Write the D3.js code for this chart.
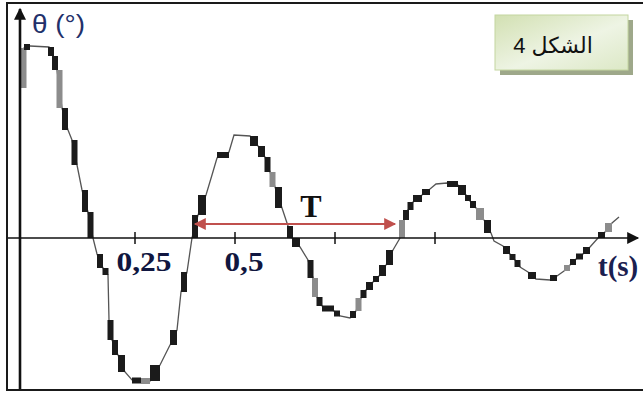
<!DOCTYPE html>
<html lang="ar">
<head>
<meta charset="UTF-8">
<script src="https://d3js.org/d3.v7.min.js"></script>
<title>الشكل 4</title>
<style>
  html, body { margin: 0; padding: 0; background: #fff; }
  svg { display: block; }
</style>
</head>
<body>
<script>
// time (s) and angle (arbitrary degree units)
const tSec = [-0.030, -0.0275, -0.0125, 0.035, 0.045, 0.055, 0.0675, 0.0825, 0.0925, 0.105,
  0.1175, 0.1325, 0.145, 0.155, 0.17, 0.1825, 0.185, 0.1925, 0.2075, 0.225,
  0.2425, 0.265, 0.2875, 0.3125, 0.3375, 0.355, 0.365, 0.38, 0.3925, 0.4075,
  0.4275, 0.4425, 0.455, 0.485, 0.4975, 0.5375, 0.5575, 0.575, 0.5875, 0.60,
  0.6175, 0.6325, 0.6425, 0.6625, 0.6825, 0.695, 0.705, 0.7175, 0.7475, 0.7625,
  0.7875, 0.8025, 0.815, 0.8275, 0.845, 0.86, 0.8775, 0.895, 0.9125, 0.9225,
  0.9325, 0.945, 0.9675, 0.9875, 1.0025, 1.03, 1.0575, 1.0775, 1.0875, 1.1025,
  1.1225, 1.14, 1.1475, 1.17, 1.1875, 1.20, 1.2125, 1.2325, 1.2525, 1.2875,
  1.305, 1.3225, 1.3375, 1.3525, 1.37, 1.3875, 1.4075, 1.425, 1.4425, 1.46]
const theta = [7.5, 9.5, 9.6, 9.55, 9.1, 8.4, 6.5, 5.4, 4.9, 3.65,
  2.4, 1.3, 0, -0.8, -1.5, -1.85, -4.1, -5.1, -5.85, -6.7,
  -7.1, -7.15, -7.15, -6.35, -5.35, -4.6, -2.7, -1.7, 0, 1.15,
  2.15, 3.15, 4.0, 4.3, 5.15, 5.1, 4.6, 4.05, 3.3, 2.55,
  1.5, 0.6, 0, -0.45, -1.1, -2.0, -2.95, -3.4, -3.65, -3.9,
  -4.0, -3.65, -3.0, -2.6, -2.2, -1.9, -1.35, -0.6, 0, 0.9,
  1.4, 1.8, 2.15, 2.45, 2.7, 2.75, 2.65, 2.15, 1.85, 1.5,
  0.9, 0.25, -0.15, -0.4, -0.8, -1.1, -1.45, -1.7, -2.05, -2.1,
  -1.9, -1.65, -1.35, -1.05, -0.8, -0.45, 0, 0.3, 0.75, 1.05]

const tickT = [0.25, 0.5, 0.75, 1]
const tickLabels = ["0,25", "0,5", "", ""]
const periodT = [0.4, 0.9]      // one period T, between two rising crossings
const periodTheta = 0.7
const figureLabel = "الشكل 4"

const W = 643, H = 394

const svg = d3.select("body").append("svg")
    .attr("width", W)
    .attr("height", H)

const x = d3.scaleLinear().domain([0, 1]).range([35, 435])
const y = d3.scaleLinear().domain([-7.5, 11.5]).range([388, 8])

// frame
svg.append("rect")
    .attr("x", 7).attr("y", 3)
    .attr("width", 660).attr("height", 387)
    .attr("fill", "none")
    .attr("stroke", "#1a1a1a")
    .attr("stroke-width", 2)

// curve: thin trace plus the chunky stair blocks of the scan
const pts = tSec.map((t, i) => [x(t), y(theta[i])])

svg.append("path")
    .attr("d", d3.line()(pts))
    .attr("fill", "none")
    .attr("stroke", "#555")
    .attr("stroke-width", 1.3)

const segTone = "gklkkgklkl" + "kklkklkkkl" + "kgklklklkk" + "llkllkkkgk" + "lkklkgkkkl" +
                "kgkkkkklgk" + "kkkllkkkkg" + "kllkkklklk" + "lgkkklkgl"
const segs = d3.pairs(pts).map((p, i) => ({ a: p[0], b: p[1], tone: segTone[i] }))
    .filter(s => s.tone !== "l")

svg.append("g").selectAll("rect")
  .data(segs)
  .join("rect")
    .attr("x", s => {
      const w = Math.abs(s.b[0] - s.a[0])
      return w < 6 ? (s.a[0] + s.b[0]) / 2 - 3 : Math.min(s.a[0], s.b[0])
    })
    .attr("y", s => {
      const h = Math.abs(s.b[1] - s.a[1])
      return h < 6 ? (s.a[1] + s.b[1]) / 2 - 3 : Math.min(s.a[1], s.b[1])
    })
    .attr("width", s => Math.max(6, Math.abs(s.b[0] - s.a[0])))
    .attr("height", s => Math.max(6, Math.abs(s.b[1] - s.a[1])))
    .attr("fill", s => s.tone === "k" ? "#1b1b1b" : "#8c8c8c")

// axes
const defs = svg.append("defs")
defs.append("marker")
    .attr("id", "axArrow")
    .attr("viewBox", "0 0 10 10")
    .attr("refX", 9).attr("refY", 5)
    .attr("markerWidth", 14).attr("markerHeight", 12)
    .attr("markerUnits", "userSpaceOnUse")
    .attr("orient", "auto")
  .append("path")
    .attr("d", "M0,0 L10,5 L0,10 Z")
    .attr("fill", "#111")

svg.append("line")
    .attr("x1", 8).attr("x2", 638)
    .attr("y1", y(0)).attr("y2", y(0))
    .attr("stroke", "#111")
    .attr("stroke-width", 1.6)
    .attr("marker-end", "url(#axArrow)")

svg.append("line")
    .attr("x1", 20).attr("x2", 20)
    .attr("y1", 389).attr("y2", 9)
    .attr("stroke", "#111")
    .attr("stroke-width", 2.6)
    .attr("marker-end", "url(#axArrow)")

const ticks = svg.append("g")
ticks.selectAll("line")
  .data(tickT)
  .join("line")
    .attr("x1", d => x(d)).attr("x2", d => x(d))
    .attr("y1", y(0) - 6).attr("y2", y(0) + 6)
    .attr("stroke", "#111")
    .attr("stroke-width", 1.5)

const labelW = { "0,25": 55, "0,5": 39 }
ticks.selectAll("text")
  .data(tickT.map((t, i) => ({ t, label: tickLabels[i] })).filter(d => d.label))
  .join("text")
    .attr("x", d => x(d.t) + 9)
    .attr("y", 271)
    .attr("text-anchor", "middle")
    .attr("font-family", "'Liberation Serif', 'Times New Roman', serif")
    .attr("font-weight", "bold")
    .attr("font-size", 28)
    .attr("fill", "#101640")
    .attr("textLength", d => labelW[d.label])
    .attr("lengthAdjust", "spacingAndGlyphs")
    .text(d => d.label)

svg.append("text")
    .attr("x", 32).attr("y", 33)
    .attr("font-family", "'Liberation Sans', Arial, sans-serif")
    .attr("font-size", 26)
    .attr("fill", "#22306a")
    .attr("textLength", 53)
    .attr("lengthAdjust", "spacingAndGlyphs")
    .text("θ (°)")

svg.append("text")
    .attr("x", 598).attr("y", 276)
    .attr("font-family", "'Liberation Serif', 'Times New Roman', serif")
    .attr("font-weight", "bold")
    .attr("font-size", 29)
    .attr("fill", "#1a2050")
    .text("t(s)")

// period arrow T
defs.append("marker")
    .attr("id", "redArrow")
    .attr("viewBox", "0 0 10 10")
    .attr("refX", 9).attr("refY", 5)
    .attr("markerWidth", 15).attr("markerHeight", 12)
    .attr("markerUnits", "userSpaceOnUse")
    .attr("orient", "auto-start-reverse")
  .append("path")
    .attr("d", "M0,0 L10,5 L0,10 Z")
    .attr("fill", "#c0504d")

svg.append("line")
    .attr("x1", x(periodT[0])).attr("x2", x(periodT[1]))
    .attr("y1", y(periodTheta)).attr("y2", y(periodTheta))
    .attr("stroke", "#c0504d")
    .attr("stroke-width", 2)
    .attr("marker-start", "url(#redArrow)")
    .attr("marker-end", "url(#redArrow)")

svg.append("text")
    .attr("x", 311).attr("y", 217)
    .attr("text-anchor", "middle")
    .attr("font-family", "'Liberation Serif', 'Times New Roman', serif")
    .attr("font-weight", "bold")
    .attr("font-size", 32)
    .attr("fill", "#111")
    .text("T")

// figure caption box
const grad = defs.append("linearGradient")
    .attr("id", "boxFill")
    .attr("x1", "0%").attr("y1", "0%")
    .attr("x2", "100%").attr("y2", "100%")
grad.append("stop").attr("offset", "0%").attr("stop-color", "#d2e0b2")
grad.append("stop").attr("offset", "55%").attr("stop-color", "#eef4e4")
grad.append("stop").attr("offset", "100%").attr("stop-color", "#dce8c6")

svg.append("rect")
    .attr("x", 500).attr("y", 20)
    .attr("width", 133).attr("height", 55)
    .attr("fill", "#9ea88a")

svg.append("rect")
    .attr("x", 495).attr("y", 15)
    .attr("width", 133).attr("height", 55)
    .attr("fill", "url(#boxFill)")
    .attr("stroke", "#c4d6a0")
    .attr("stroke-width", 1)

svg.append("text")
    .attr("x", 553).attr("y", 53)
    .attr("text-anchor", "middle")
    .attr("direction", "rtl")
    .attr("font-family", "'Liberation Sans', Arial, 'DejaVu Sans', sans-serif")
    .attr("font-size", 22)
    .attr("fill", "#111")
    .text(figureLabel)
</script>
</body>
</html>
